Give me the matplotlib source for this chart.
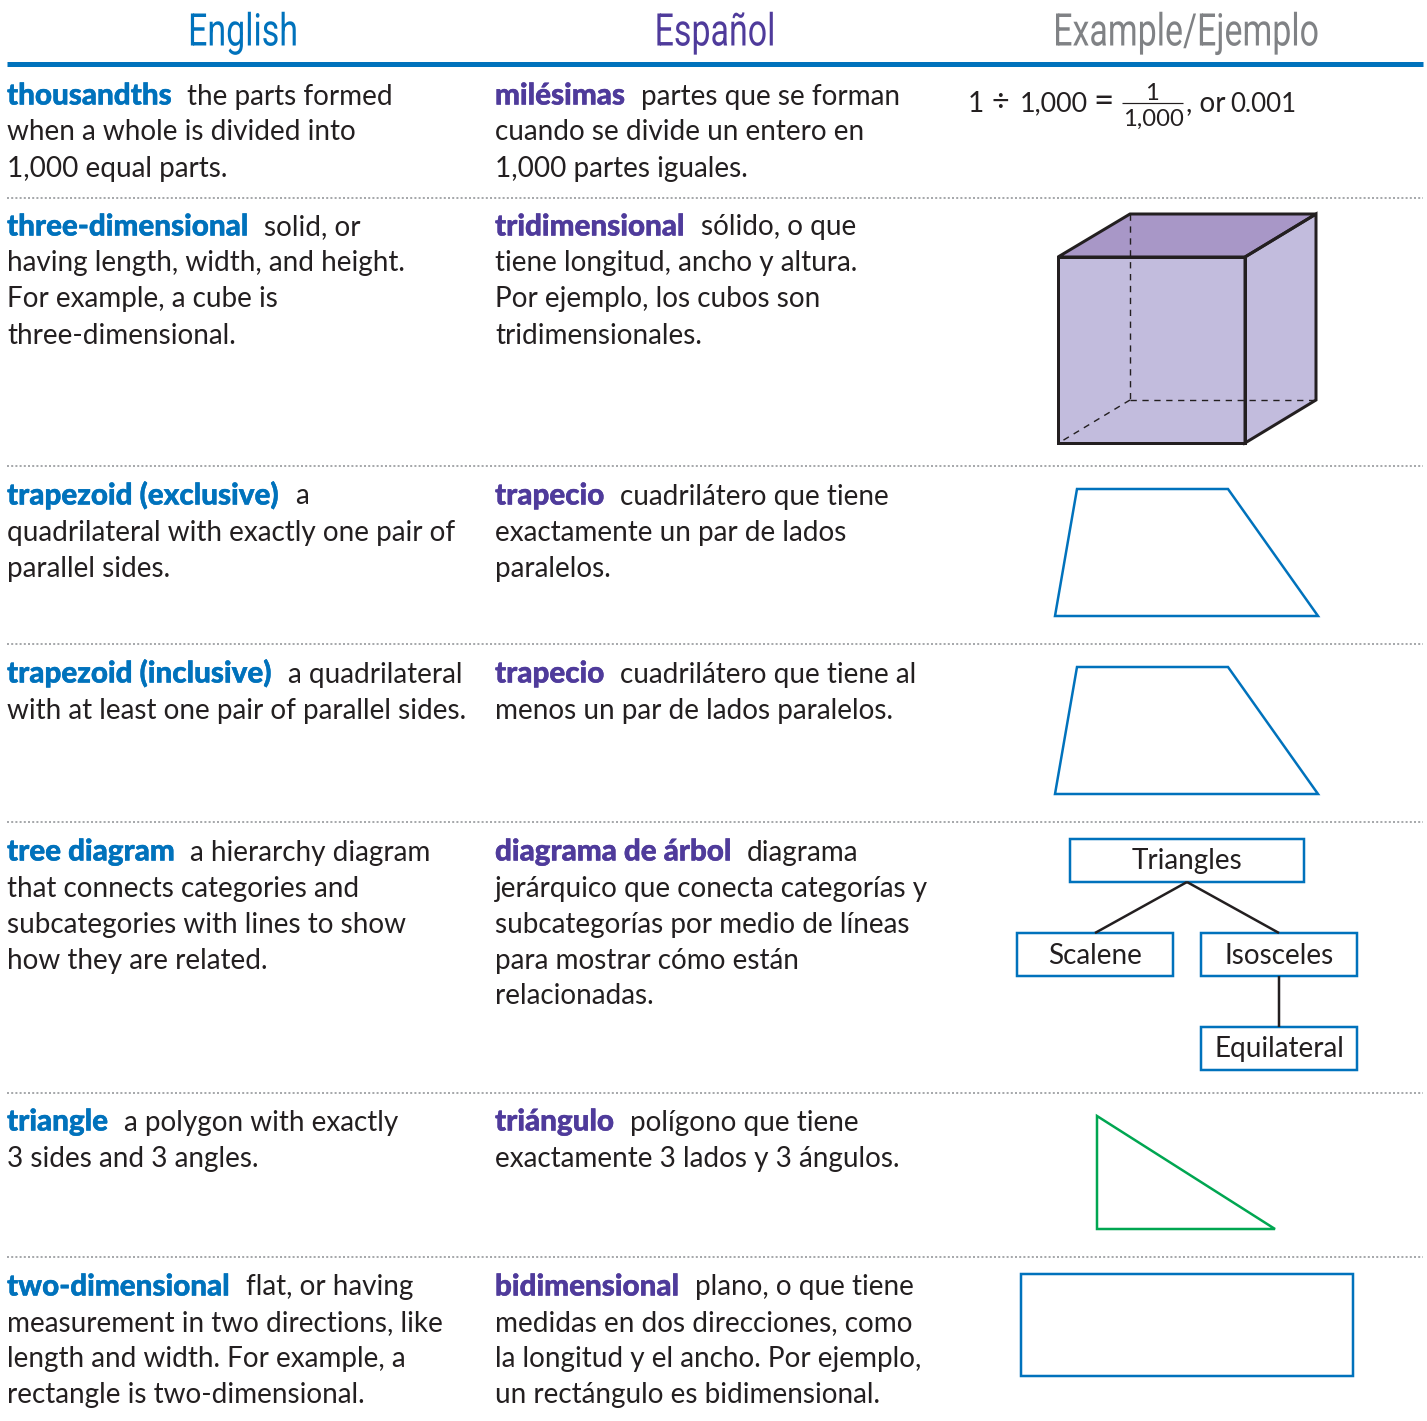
import matplotlib
matplotlib.use("Agg")
import matplotlib.pyplot as plt
from matplotlib.patches import Polygon, Rectangle
from matplotlib.patheffects import AbstractPathEffect, withStroke
from matplotlib.transforms import Affine2D

W, H = 1427, 1421
BLUE, PURPLE, GREY, INK = "#0072bc", "#4f3b9b", "#808285", "#231f20"

headers = ["English", "Español", "Example/Ejemplo"]
header_x = [243, 715, 1186]
header_colors = [BLUE, PURPLE, GREY]

row_baselines = [104.5, 235.5, 504.5, 682.5, 860.5, 1130.5, 1295.5]
separators = [197.5, 465.5, 644, 822, 1092.5, 1256.5]

terms_en = ["thousandths", "three-dimensional", "trapezoid (exclusive)", "trapezoid (inclusive)",
            "tree diagram", "triangle", "two-dimensional"]
first_en = ["the parts formed", "solid, or", "a", "a quadrilateral", "a hierarchy diagram",
            "a polygon with exactly", "flat, or having"]
rest_en = [
    ["when a whole is divided into", "1,000 equal parts."],
    ["having length, width, and height.", "For example, a cube is", "three-dimensional."],
    ["quadrilateral with exactly one pair of", "parallel sides."],
    ["with at least one pair of parallel sides."],
    ["that connects categories and", "subcategories with lines to show", "how they are related."],
    ["3 sides and 3 angles."],
    ["measurement in two directions, like", "length and width. For example, a", "rectangle is two-dimensional."],
]
terms_es = ["milésimas", "tridimensional", "trapecio", "trapecio", "diagrama de árbol", "triángulo", "bidimensional"]
first_es = ["partes que se forman", "sólido, o que", "cuadrilátero que tiene", "cuadrilátero que tiene al",
            "diagrama", "polígono que tiene", "plano, o que tiene"]
rest_es = [
    ["cuando se divide un entero en", "1,000 partes iguales."],
    ["tiene longitud, ancho y altura.", "Por ejemplo, los cubos son", "tridimensionales."],
    ["exactamente un par de lados", "paralelos."],
    ["menos un par de lados paralelos."],
    ["jerárquico que conecta categorías y", "subcategorías por medio de líneas",
     "para mostrar cómo están", "relacionadas."],
    ["exactamente 3 lados y 3 ángulos."],
    ["medidas en dos direcciones, como", "la longitud y el ancho. Por ejemplo,", "un rectángulo es bidimensional."],
]

cube_front = [(1058, 257), (1245, 257), (1245, 443), (1058, 443)]
cube_top = [(1058, 257), (1130, 214), (1316, 214), (1245, 257)]
cube_side = [(1245, 257), (1316, 214), (1316, 400), (1245, 443)]
cube_hidden = [[(1130, 214), (1130, 400)], [(1130, 400), (1316, 400)], [(1130, 400), (1062, 441)]]
trapezoid_a = [(1077, 489), (1228, 489), (1318, 616), (1055, 616)]
trapezoid_b = [(1077, 667), (1228, 667), (1318, 794), (1055, 794)]
triangle = [(1097, 1116), (1097, 1229), (1275, 1229)]
rectangle = [(1021, 1274), (1353, 1274), (1353, 1376), (1021, 1376)]

tree_labels = ["Triangles", "Scalene", "Isosceles", "Equilateral"]
tree_boxes = [(1070, 839, 1304, 882), (1017, 933, 1173, 976), (1201, 933, 1357, 976), (1201, 1027, 1357, 1070)]
tree_links = [[(1187, 882), (1095, 933)], [(1187, 882), (1279, 933)], [(1279, 976), (1279, 1027)]]

BODY = "Lato"
SIZE = 20.1
TERM_SIZE = 21.3
FRACTION_SIZE = 17.2
PX = 72 / 100

fig = plt.figure(figsize=(W / 100, H / 100), dpi=100)
ax = fig.add_axes([0, 0, 1, 1])
ax.set_xlim(0, W)
ax.set_ylim(H, 0)
ax.axis("off")


class CondenseX(AbstractPathEffect):
    """Squeezes real text horizontally about a pixel column."""

    def __init__(self, factor, center_px):
        super().__init__()
        self.factor = factor
        self.center_px = center_px

    def draw_path(self, renderer, gc, tpath, affine, rgbFace=None):
        squeeze = Affine2D().translate(-self.center_px, 0).scale(self.factor, 1).translate(self.center_px, 0)
        renderer.draw_path(gc, tpath, affine + squeeze, rgbFace)


def seg(points, color, px, **kw):
    xs, ys = zip(*points)
    ax.plot(xs, ys, color=color, lw=px * PX, solid_capstyle="butt", **kw)


def poly(points, edge, px, face="none"):
    ax.add_patch(Polygon(points, closed=True, fc=face, ec=edge, lw=px * PX, joinstyle="miter"))


for label, x, c in zip(headers, header_x, header_colors):
    t = ax.text(x, 45.5, label, ha="center", va="baseline", color=c, fontsize=32.4, family="Roboto")
    t.set_path_effects([CondenseX(0.755, x)])

seg([(7, 64), (1423, 64)], BLUE, 5)
for y in separators:
    ax.plot([7, 1423], [y, y], color="#a7a9ac", lw=2 * PX, ls=(0, (1, 1.1)))

renderer = fig.canvas.get_renderer()


def entry(x, base, term, first, rest, color):
    t = ax.text(x, base, term, color=color, fontsize=TERM_SIZE, fontweight="black", family=BODY, va="baseline")
    end = t.get_window_extent(renderer).x1
    t.set_path_effects([withStroke(linewidth=0.3, foreground=color)])
    ax.text(end + 15, base, first, color=INK, fontsize=SIZE, family=BODY, va="baseline")
    for i, line in enumerate(rest, start=1):
        ax.text(x, base + 36 * i, line, color=INK, fontsize=SIZE, family=BODY, va="baseline")


for i, base in enumerate(row_baselines):
    entry(7, base, terms_en[i], first_en[i], rest_en[i], BLUE)
    entry(495, base, terms_es[i], first_es[i], rest_es[i], PURPLE)

# Fraction example
ax.text(968, 111.5, "1", color=INK, fontsize=SIZE, family=BODY, va="baseline")
ax.text(1000, 111.5, "÷", color=INK, fontsize=22, family=BODY, ha="center", va="baseline")
ax.text(1020, 111.5, "1,000", color=INK, fontsize=19.4, family=BODY, va="baseline")
ax.text(1103.5, 111.5, "=", color=INK, fontsize=25, family=BODY, ha="center", va="baseline")
ax.text(1152, 100, "1", color=INK, fontsize=FRACTION_SIZE, family=BODY, ha="center", va="baseline")
seg([(1122, 103), (1183, 103)], INK, 1.2)
ax.text(1153, 126, "1,000", color=INK, fontsize=FRACTION_SIZE, family=BODY, ha="center", va="baseline")
ax.text(1186, 111.5, ", or", color=INK, fontsize=SIZE, family=BODY, va="baseline")
ax.text(1296, 111.5, "0.001", color=INK, fontsize=18.6, family=BODY, ha="right", va="baseline")

# Cube
poly(cube_front, "none", 0, "#c2bcdd")
poly(cube_side, "none", 0, "#c2bcdd")
poly(cube_top, "none", 0, "#a897c7")
for pts in cube_hidden:
    ax.plot(*zip(*pts), color=INK, lw=1.4 * PX, ls=(0, (4.5, 4)))
poly(cube_top, INK, 3)
poly(cube_side, INK, 3)
poly(cube_front, INK, 3)

poly(trapezoid_a, BLUE, 2.5)
poly(trapezoid_b, BLUE, 2.5)
poly(triangle, "#00a651", 2.5)
poly(rectangle, BLUE, 2.5)

# Tree diagram
for pts in tree_links:
    seg(pts, INK, 2.5)
for label, (x0, y0, x1, y1) in zip(tree_labels, tree_boxes):
    ax.add_patch(Rectangle((x0, y0), x1 - x0, y1 - y0, fc="white", ec=BLUE, lw=2.5 * PX))
    ax.text((x0 + x1) / 2, y1 - 12.5, label, ha="center", va="baseline", color=INK, fontsize=SIZE, family=BODY)

fig.savefig("out.png", dpi=100, facecolor="white")
